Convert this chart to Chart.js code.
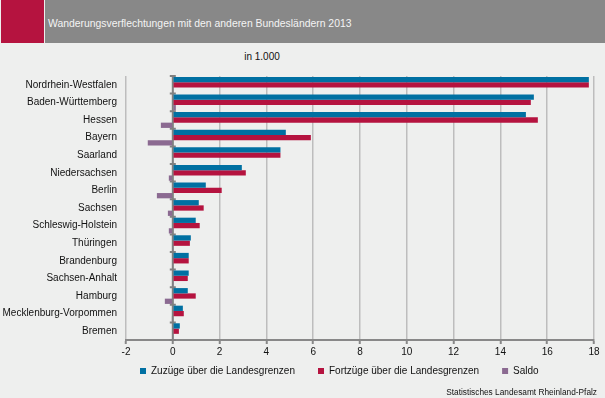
<!DOCTYPE html>
<html>
<head>
<meta charset="utf-8">
<script src="https://cdn.jsdelivr.net/npm/chart.js@4.4.1/dist/chart.umd.min.js"></script>
<style>
  html, body { margin: 0; padding: 0; }
  body { width: 605px; height: 398px; background: #eeefee; position: relative; overflow: hidden; font-family: "Liberation Sans", Arial, sans-serif; }
  #hdrRed { position: absolute; left: 1px; top: 0; width: 43px; height: 43px; background: #b5133f; }
  #hdrGray { position: absolute; left: 45px; top: 0; width: 560px; height: 43px; background: #888888; }
  #title { position: absolute; left: 48px; top: 18px; font-size: 10.4px; line-height: 12px; color: #f4f4f4; white-space: nowrap; }
  #sub { position: absolute; left: 0; width: 524px; top: 51px; line-height: 12px; text-align: center; font-size: 10px; color: #111; }
  #src { position: absolute; right: 8px; top: 387px; line-height: 11px; font-size: 8.3px; color: #111; white-space: nowrap; }
  #wrap { position: absolute; left: 0; top: 65px; width: 605px; height: 333px; }
</style>
</head>
<body>
<div id="hdrRed"></div>
<div id="hdrGray"></div>
<div id="title">Wanderungsverflechtungen mit den anderen Bundesländern 2013</div>
<div id="sub">in 1.000</div>
<div id="wrap"><canvas id="c" width="605" height="333"></canvas></div>
<div id="src">Statistisches Landesamt Rheinland-Pfalz</div>
<script>
const categories = ["Nordrhein-Westfalen","Baden-Württemberg","Hessen","Bayern","Saarland","Niedersachsen","Berlin","Sachsen","Schleswig-Holstein","Thüringen","Brandenburg","Sachsen-Anhalt","Hamburg","Mecklenburg-Vorpommen","Bremen"];
const zuzuege  = [17.78, 15.43, 15.09, 4.83, 4.60, 2.95, 1.41, 1.11, 0.98, 0.77, 0.68, 0.68, 0.64, 0.43, 0.30];
const fortzuege = [17.78, 15.30, 15.60, 5.90, 4.60, 3.12, 2.09, 1.32, 1.15, 0.73, 0.68, 0.64, 0.98, 0.47, 0.26];
const saldo    = [0.00, 0.13, -0.51, -1.07, 0.00, -0.17, -0.68, -0.21, -0.17, 0.04, 0.00, 0.04, -0.34, -0.04, 0.04];
const seriesNames = ["Zuzüge über die Landesgrenzen","Fortzüge über die Landesgrenzen","Saldo"];
const xMin = -2, xMax = 18, xStep = 2;

const legendGaps = ['\u2002\u2002\u2002', '\u2002\u2002\u2002', ''];

const zeroAxis = {
  id: 'zeroAxis',
  beforeDatasetsDraw(chart) {
    const {ctx, scales: {x, y}} = chart;
    const px = x.getPixelForValue(0);
    ctx.save();
    ctx.strokeStyle = '#808080';
    ctx.lineWidth = 2;
    ctx.beginPath();
    ctx.moveTo(px, y.top);
    ctx.lineTo(px, y.bottom);
    const n = categories.length;
    for (let i = 0; i <= n; i++) {
      const py = y.top + (y.bottom - y.top) * i / n;
      ctx.moveTo(px - 3, py);
      ctx.lineTo(px + 3, py);
    }
    ctx.stroke();
    ctx.restore();
  }
};

const legendShift = {
  id: 'legendShift',
  afterLayout(chart) {
    if (chart.legend) { chart.legend.left += 6; chart.legend.right += 6; }
  }
};

new Chart(document.getElementById('c'), {
  type: 'bar',
  data: {
    labels: categories,
    datasets: [
      { label: seriesNames[0], data: zuzuege, backgroundColor: '#0070a2' },
      { label: seriesNames[1], data: fortzuege, backgroundColor: '#b5133f' },
      { label: seriesNames[2], data: saldo, backgroundColor: '#8b6a91' }
    ]
  },
  options: {
    indexAxis: 'y',
    responsive: false,
    animation: false,
    devicePixelRatio: 1,
    categoryPercentage: 0.9,
    barPercentage: 1.0,
    layout: { padding: { top: 11, right: 11, left: 0, bottom: 12 } },
    plugins: {
      legend: {
        position: 'bottom',
        align: 'start',
        fullSize: false,
        labels: {
          boxWidth: 6, boxHeight: 6, padding: 8, color: '#111',
          font: { family: 'Liberation Sans', size: 10 },
          generateLabels(chart) {
            const items = Chart.defaults.plugins.legend.labels.generateLabels(chart);
            items.forEach((it, i) => { it.text = it.text + legendGaps[i]; });
            return items;
          }
        }
      },
      tooltip: { enabled: false }
    },
    scales: {
      x: {
        min: xMin, max: xMax,
        ticks: { stepSize: xStep, color: '#111', padding: 2, font: { family: 'Liberation Sans', size: 10 } },
        grid: {
          color: '#bdbdbd', lineWidth: 1.5,
          drawTicks: true, tickLength: 4, tickColor: '#888', tickWidth: 2
        },
        border: { display: true, color: '#888', width: 2 },
        afterFit(scale) { scale.height = 18; }
      },
      y: {
        ticks: { color: '#111', padding: 9, font: { family: 'Liberation Sans', size: 10 } },
        grid: { display: false, drawTicks: false },
        border: { display: false },
        afterFit(scale) { scale.width = 126; scale.paddingTop = 0; scale.paddingBottom = 0; }
      }
    }
  },
  plugins: [zeroAxis, legendShift]
});
</script>
</body>
</html>
